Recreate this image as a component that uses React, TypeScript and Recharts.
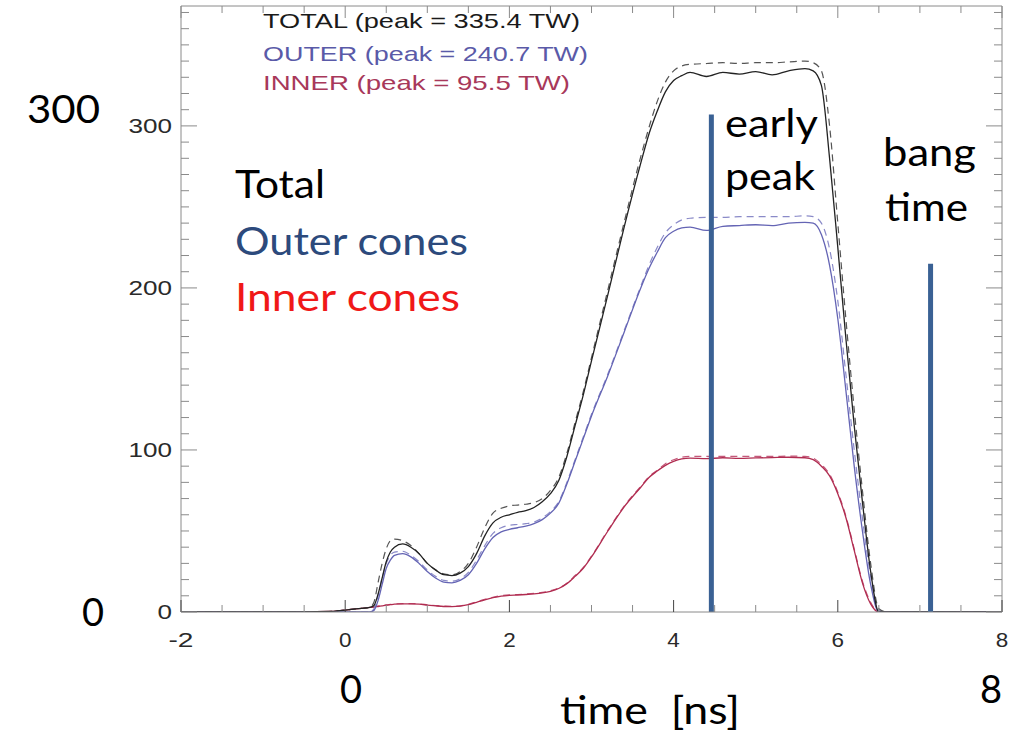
import { Line, LineChart, ReferenceLine, XAxis, YAxis } from "recharts";

// time grid (ns) shared by all traces
const times = [
  -2, -1, -0.5, -0.2, 0, 0.2, 0.3, 0.35, 0.4, 0.45, 0.5, 0.55, 0.6, 0.7, 0.8, 0.9, 1.0, 1.1, 1.2, 1.3,
  1.4, 1.5, 1.6, 1.7, 1.8, 1.9, 2.0, 2.1, 2.2, 2.3, 2.4, 2.5, 2.6, 2.7, 2.8, 2.9, 3.0, 3.2, 3.4, 3.6,
  3.7, 3.8, 3.9, 4.0, 4.1, 4.2, 4.4, 4.6, 4.8, 5.0, 5.2, 5.4, 5.6, 5.7, 5.8, 5.9, 6.0, 6.1, 6.2, 6.3,
  6.4, 6.5, 6.6, 7, 8
];

// power (TW), solid = measured, dashed = requested
const totalPower = [
  0, 0, 0, 0.3, 1.2, 2.2, 2.8, 4, 11, 21, 31, 37, 40, 42, 40, 36, 30, 26, 23, 22.5,
  24, 28, 36, 47, 55, 58.5, 60, 61.5, 62.5, 64.5, 68, 73, 81, 96, 115, 134, 155, 196, 238, 277,
  295, 309, 321, 328, 331, 333, 330.5, 333, 332, 333.5, 331.5, 334, 335.4, 334, 325, 280, 225, 168, 115, 68,
  25, 0, 0, 0, 0
];
const totalRequest = [
  0, 0, 0, 0.3, 1.3, 2.3, 2.9, 6, 18, 30, 39, 44, 45, 44, 41, 36, 30, 26, 23.5, 23,
  25, 30, 40, 52, 61, 64, 65.5, 66, 66.5, 67.5, 70, 75, 83, 98, 117, 136, 157, 199, 241, 281,
  299, 315, 327, 334, 337, 338, 338.5, 339, 338.5, 339, 339, 339.5, 340, 339, 334, 300, 240, 180, 125, 75,
  30, 2, 0, 0, 0
];
const outerPower = [
  0, 0, 0, 0, 0, 0, 0, 1, 7, 17, 27, 32, 35, 36, 34, 30, 25, 21, 18.5, 18,
  19.5, 23, 30, 39, 46, 49.5, 51, 52, 53, 54.5, 57, 61, 67, 79, 93, 107, 121, 146, 173, 200,
  212, 222, 231, 235, 237, 237.5, 235.5, 238, 238.5, 239, 238.5, 240, 240.5, 240, 233, 214, 181, 136, 90, 50,
  17, 0, 0, 0, 0
];
const outerRequest = [
  0, 0, 0, 0, 0, 0, 0, 2, 10, 21, 30, 35, 37, 37.5, 35, 31, 26, 22, 19.5, 19,
  20.5, 24.5, 32, 41, 48.5, 52, 53.5, 54, 54.5, 55.5, 58, 62, 68, 80, 94, 108, 122, 147, 174, 201,
  214, 225, 234, 239, 242, 243, 243.5, 243.5, 244, 244, 244, 244, 244.5, 244, 240, 224, 192, 146, 100, 58,
  22, 1, 0, 0, 0
];
const innerPower = [
  0, 0, 0, 0.3, 1.2, 2.2, 2.8, 3.0, 3.4, 3.8, 4.2, 4.5, 4.8, 5.0, 5.0, 4.8, 4.3, 3.8, 3.4, 3.3,
  3.6, 4.5, 6.0, 7.5, 8.8, 9.8, 10.3, 10.5, 10.8, 11.2, 11.8, 12.8, 14.5, 17.5, 22, 27, 34, 50, 65, 77,
  83, 87, 90.5, 93, 94.5, 95, 94.6, 95.2, 94.8, 95.1, 95.3, 95.5, 95.2, 94, 90, 84, 73, 58, 38, 18,
  5, 0, 0, 0, 0
];
const innerRequest = [
  0, 0, 0, 0.3, 1.3, 2.3, 2.9, 3.2, 3.6, 4.0, 4.4, 4.7, 5.0, 5.2, 5.2, 5.0, 4.5, 4.0, 3.6, 3.5,
  3.8, 4.8, 6.3, 7.8, 9.1, 10.1, 10.6, 10.8, 11.1, 11.5, 12.1, 13.1, 14.8, 17.8, 22.5, 27.5, 34.5, 50.5, 65.5, 77.5,
  83.5, 87.5, 91.5, 94, 95.5, 96, 96, 96, 96, 96, 96, 96.2, 96, 95, 91, 85, 74, 59, 39, 19,
  6, 0, 0, 0, 0
];

const xTicks = [-2, -1.5, -1, -0.5, 0, 0.5, 1, 1.5, 2, 2.5, 3, 3.5, 4, 4.5, 5, 5.5, 6, 6.5, 7, 7.5, 8];
const xLabels = [-2, 0, 2, 4, 6, 8];
const yTicks = Array.from({ length: 38 }, (_, i) => i * 10);
const yLabels = [0, 100, 200, 300];

const earlyPeak = { t: 4.46, top: 307 };
const bangTime = { t: 7.13, top: 215 };

const data = times.map((t, i) => ({
  t,
  total: totalPower[i],
  totalReq: totalRequest[i],
  outer: outerPower[i],
  outerReq: outerRequest[i],
  inner: innerPower[i],
  innerReq: innerRequest[i]
}));

const FRAME = "#8a8a8a";
const AXIS_FONT = "'Liberation Sans', Arial, sans-serif";
const SLIDE_FONT = "Lato, 'Open Sans', sans-serif";
const GAP = 9;

function LeftTick({ x, y, payload }: any) {
  const v = payload.value;
  const major = yLabels.includes(v);
  const ax = x + GAP;
  return (
    <g>
      <line x1={ax} x2={ax + (major ? 16 : 8)} y1={y} y2={y} stroke={FRAME} />
      {major && (
        <text x={x} y={y} dy="0.36em" textAnchor="end" fontFamily={AXIS_FONT} fontSize={20} fill="#2a2a2a"
          textLength={String(v).length * 14.5} lengthAdjust="spacingAndGlyphs">
          {v}
        </text>
      )}
    </g>
  );
}

function RightTick({ x, y, payload }: any) {
  const major = yLabels.includes(payload.value);
  const ax = x - GAP;
  return <line x1={ax} x2={ax - (major ? 16 : 8)} y1={y} y2={y} stroke={FRAME} />;
}

function BottomTick({ x, y, payload }: any) {
  const v = payload.value;
  const major = xLabels.includes(v);
  const ay = y - GAP;
  return (
    <g>
      <line x1={x} x2={x} y1={ay} y2={ay - (major ? 12 : 7)} stroke={major ? "#444" : FRAME} />
      {major && (
        <text x={x} y={ay + 21} dy="0.71em" textAnchor="middle" fontFamily={AXIS_FONT} fontSize={20} fill="#2a2a2a"
          textLength={String(v).length * 12.5} lengthAdjust="spacingAndGlyphs">
          {v}
        </text>
      )}
    </g>
  );
}

function TopTick({ x, y, payload }: any) {
  const major = xLabels.includes(payload.value);
  const ay = y + GAP;
  return <line x1={x} x2={x} y1={ay} y2={ay + (major ? 12 : 7)} stroke={FRAME} />;
}

export default function App() {
  return (
    <div style={{ position: "absolute", left: 0, top: 0, width: 1026, height: 733, background: "#fff" }}>
      <LineChart width={1026} height={733} data={data} margin={{ top: 5, right: 0, bottom: 81, left: 121 }}>
        <XAxis dataKey="t" type="number" domain={[-2, 8]} ticks={xTicks} interval={0} allowDataOverflow
          axisLine={{ stroke: FRAME }} tickLine={false} tickSize={0} tickMargin={GAP} height={40} tick={<BottomTick />} />
        <XAxis xAxisId="top" orientation="top" dataKey="t" type="number" domain={[-2, 8]} ticks={xTicks} interval={0}
          allowDataOverflow axisLine={{ stroke: FRAME }} tickLine={false} tickSize={0} tickMargin={GAP} height={1}
          tick={<TopTick />} />
        <YAxis type="number" domain={[0, 374]} ticks={yTicks} interval={0} allowDataOverflow
          axisLine={{ stroke: FRAME }} tickLine={false} tickSize={0} tickMargin={GAP} width={60} tick={<LeftTick />} />
        <YAxis yAxisId="right" orientation="right" type="number" domain={[0, 374]} ticks={yTicks} interval={0}
          allowDataOverflow axisLine={{ stroke: FRAME }} tickLine={false} tickSize={0} tickMargin={GAP} width={24}
          tick={<RightTick />} />
        <Line xAxisId="top" yAxisId="right" dataKey="total" stroke="none" dot={false} isAnimationActive={false} />
        <Line type="monotone" dataKey="innerReq" stroke="#c4587a" strokeWidth={1.2} strokeDasharray="7 5" dot={false} isAnimationActive={false} />
        <Line type="monotone" dataKey="inner" stroke="#b02c50" strokeWidth={1.3} dot={false} isAnimationActive={false} />
        <Line type="monotone" dataKey="outerReq" stroke="#8a8ac8" strokeWidth={1.2} strokeDasharray="7 5" dot={false} isAnimationActive={false} />
        <Line type="monotone" dataKey="outer" stroke="#6464b4" strokeWidth={1.3} dot={false} isAnimationActive={false} />
        <Line type="monotone" dataKey="totalReq" stroke="#555" strokeWidth={1.2} strokeDasharray="7 5" dot={false} isAnimationActive={false} />
        <Line type="monotone" dataKey="total" stroke="#222" strokeWidth={1.3} dot={false} isAnimationActive={false} />
        <ReferenceLine segment={[{ x: earlyPeak.t, y: 0 }, { x: earlyPeak.t, y: earlyPeak.top }]} stroke="#3a6194" strokeWidth={5} />
        <ReferenceLine segment={[{ x: bangTime.t, y: 0 }, { x: bangTime.t, y: bangTime.top }]} stroke="#3a6194" strokeWidth={5} />
      </LineChart>
      <svg width={1026} height={733} style={{ position: "absolute", left: 0, top: 0, pointerEvents: "none" }}>
        <g fontFamily={AXIS_FONT} fontSize={21} style={{ whiteSpace: "pre" }}>
          <text x={263} y={28} fill="#1a1a1a" textLength={317} lengthAdjust="spacingAndGlyphs">TOTAL (peak = 335.4 TW)</text>
          <text x={263} y={61} fill="#5a5aa8" textLength={325} lengthAdjust="spacingAndGlyphs">OUTER (peak = 240.7 TW)</text>
          <text x={263} y={90} fill="#a8385a" textLength={307} lengthAdjust="spacingAndGlyphs">INNER (peak =  95.5 TW)</text>
        </g>
        <g fontFamily={SLIDE_FONT} fontSize={38} fill="#000">
          <text x={27} y={123} textLength={73} lengthAdjust="spacingAndGlyphs">300</text>
          <text x={82} y={626}>0</text>
          <text x={235} y={198} textLength={90} lengthAdjust="spacingAndGlyphs">Total</text>
          <text x={235} y={255} fill="#2c4a7c" textLength={233} lengthAdjust="spacingAndGlyphs">Outer cones</text>
          <text x={235} y={311} fill="#f01818" textLength={225} lengthAdjust="spacingAndGlyphs">Inner cones</text>
          <text x={725} y={137} textLength={93} lengthAdjust="spacingAndGlyphs">early</text>
          <text x={725} y={190} textLength={90} lengthAdjust="spacingAndGlyphs">peak</text>
          <text x={883} y={166} textLength={93} lengthAdjust="spacingAndGlyphs">bang</text>
          <text x={885} y={221} textLength={83} lengthAdjust="spacingAndGlyphs">time</text>
          <text x={340} y={703}>0</text>
          <text x={980} y={703}>8</text>
          <text x={560} y={724} style={{ whiteSpace: "pre" }} textLength={180} lengthAdjust="spacingAndGlyphs">time  [ns]</text>
        </g>
      </svg>
    </div>
  );
}
